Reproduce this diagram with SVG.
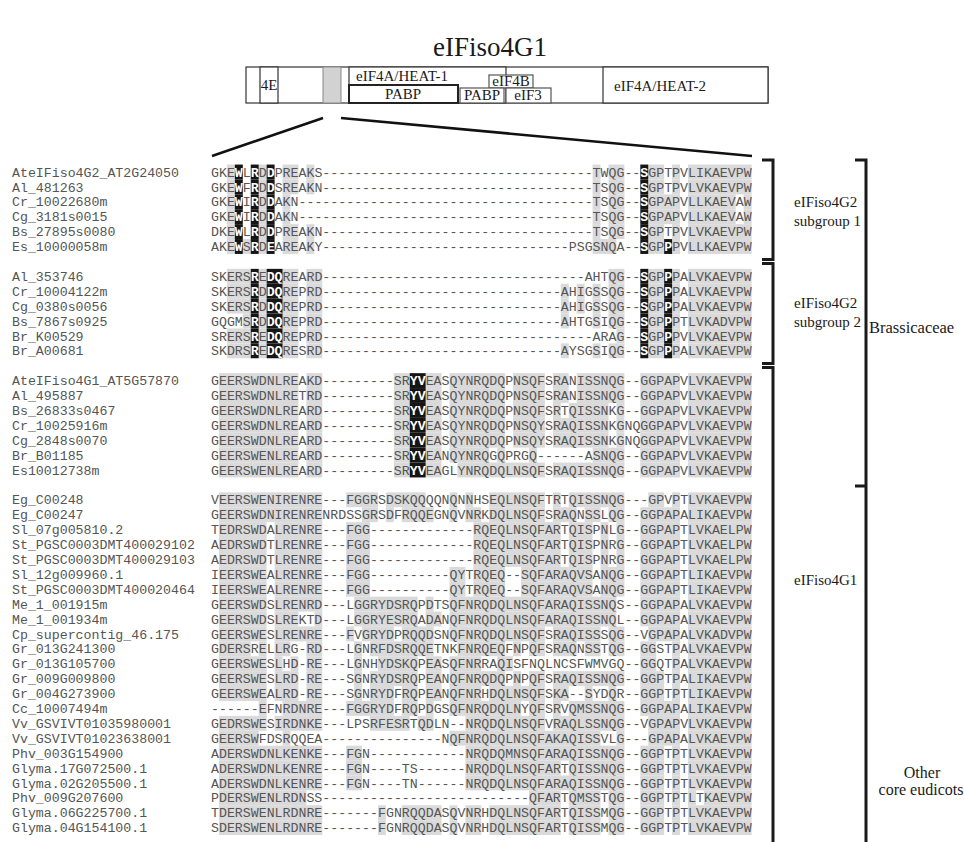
<svg xmlns="http://www.w3.org/2000/svg" width="964" height="842" viewBox="0 0 964 842">
<style>
.t{font-family:"Liberation Serif","Times New Roman",serif;fill:#1a1a1a}
.ttl{font-size:27px;text-anchor:middle}
.dl{font-size:15px;text-anchor:middle}
.lb{font-size:15px}
.lb2{font-size:16px}
.nm,.sq{font-family:"Liberation Mono","Courier New",monospace;font-size:13.25px;fill:#555}
.w{fill:#fff;font-weight:bold}
.g{fill:#dadada}
.k{fill:#151515}
.g rect,.k rect{y:-7.45px;height:14.9px}
.bx{fill:#fff;stroke:#333;stroke-width:1.2}
.br{fill:none;stroke:#1a1a1a;stroke-width:3}
.cn{stroke:#111;stroke-width:2.5}
</style>
<rect width="964" height="842" fill="#fff"/>
<text class="t ttl" x="490" y="56">eIFiso4G1</text>
<g id="domains">
<g id="d-outer"><rect class="bx" x="246" y="67" width="522" height="36"/></g>
<g id="d-4E"><rect class="bx" x="260" y="67" width="18" height="36"/><text class="t dl" x="269" y="90">4E</text></g>
<g id="d-region"><rect x="323" y="67" width="18" height="36" fill="#d2d2d2" stroke="#888" stroke-width="1"/></g>
<g id="d-heat1"><rect class="bx" x="349" y="67" width="157" height="36"/><text class="t dl" x="402" y="81">eIF4A/HEAT-1</text></g>
<g id="d-pabp1"><rect x="349" y="85" width="109" height="18" fill="#fff" stroke="#222" stroke-width="2"/><text class="t dl" x="403" y="99">PABP</text></g>
<g id="d-eif4b"><rect x="489" y="75" width="44" height="13" fill="#fff" stroke="#555" stroke-width="1.2"/><text class="t dl" x="511" y="86">eIF4B</text></g>
<g id="d-pabp2"><rect x="460" y="88" width="44" height="15" fill="#fff" stroke="#555" stroke-width="1.2"/><text class="t dl" x="482" y="100">PABP</text></g>
<g id="d-eif3"><rect x="506" y="88" width="45" height="15" fill="#fff" stroke="#555" stroke-width="1.2"/><text class="t dl" x="528" y="100">eIF3</text></g>
<g id="d-heat2"><rect class="bx" x="603" y="67" width="165" height="36"/><text class="t dl" x="660" y="91">eIF4A/HEAT-2</text></g>
</g>
<g id="connectors">
<line class="cn" x1="323" y1="118" x2="212" y2="156"/>
<line class="cn" x1="341" y1="118" x2="752" y2="156"/>
<path class="br" d="M762,160H773V259.5H762"/>
<path class="br" d="M762,263.5H773V363.5H762"/>
<path class="br" d="M762,367.5H773V842"/>
<path class="br" d="M855,160H866V842M855,486H866"/>
</g>
<g id="labels">
<text class="t lb" x="794" y="207">eIFiso4G2</text><text class="t lb" x="794" y="226">subgroup 1</text>
<text class="t lb" x="794" y="308">eIFiso4G2</text><text class="t lb" x="794" y="327">subgroup 2</text>
<text class="t lb2" x="869" y="333" style="font-size:16.5px">Brassicaceae</text>
<text class="t lb" x="794" y="585">eIFiso4G1</text>
<text class="t lb2" x="922" y="778" text-anchor="middle">Other</text>
<text class="t lb2" x="921" y="795" text-anchor="middle">core eudicots</text>
</g>
<g id="alignment">
<g id="r1" transform="translate(0,172)"><text class="nm" x="12" y="4.6">AteIFiso4G2_AT2G24050</text><g transform="translate(211,0) scale(7.95,1)"><g class="g"><rect x="2" width="1"/><rect x="6" width="1"/><rect x="9" width="2"/><rect x="12" width="1"/><rect x="48" width="1"/><rect x="50" width="2"/><rect x="55" width="2"/><rect x="58" width="1"/><rect x="60" width="8"/></g><g class="k"><rect x="3" width="1"/><rect x="5" width="1"/><rect x="7" width="1"/><rect x="54" width="1"/></g></g><text class="sq" x="211" y="4.6">GKE<tspan class="w">W</tspan>L<tspan class="w">R</tspan>D<tspan class="w">D</tspan>PREAKS----------------------------------<tspan x="592.6">TWQG--</tspan><tspan class="w">S</tspan>GPTPVLIKAEVPW</text></g>
<g id="r2" transform="translate(0,186.9)"><text class="nm" x="12" y="4.6">Al_481263</text><g transform="translate(211,0) scale(7.95,1)"><g class="g"><rect x="2" width="1"/><rect x="6" width="1"/><rect x="9" width="2"/><rect x="12" width="1"/><rect x="48" width="1"/><rect x="50" width="2"/><rect x="55" width="2"/><rect x="58" width="1"/><rect x="60" width="8"/></g><g class="k"><rect x="3" width="1"/><rect x="5" width="1"/><rect x="7" width="1"/><rect x="54" width="1"/></g></g><text class="sq" x="211" y="4.6">GKE<tspan class="w">W</tspan>F<tspan class="w">R</tspan>D<tspan class="w">D</tspan>SREAKN----------------------------------<tspan x="592.6">TSQG--</tspan><tspan class="w">S</tspan>GPTPVLVKAEVPW</text></g>
<g id="r3" transform="translate(0,201.8)"><text class="nm" x="12" y="4.6">Cr_10022680m</text><g transform="translate(211,0) scale(7.95,1)"><g class="g"><rect x="2" width="1"/><rect x="6" width="1"/><rect x="9" width="1"/><rect x="48" width="1"/><rect x="50" width="2"/><rect x="55" width="4"/><rect x="60" width="6"/><rect x="67" width="1"/></g><g class="k"><rect x="3" width="1"/><rect x="5" width="1"/><rect x="7" width="1"/><rect x="54" width="1"/></g></g><text class="sq" x="211" y="4.6">GKE<tspan class="w">W</tspan>I<tspan class="w">R</tspan>D<tspan class="w">D</tspan>AKN-------------------------------------<tspan x="592.6">TSQG--</tspan><tspan class="w">S</tspan>GPAPVLLKAEVAW</text></g>
<g id="r4" transform="translate(0,216.7)"><text class="nm" x="12" y="4.6">Cg_3181s0015</text><g transform="translate(211,0) scale(7.95,1)"><g class="g"><rect x="2" width="1"/><rect x="6" width="1"/><rect x="9" width="1"/><rect x="48" width="1"/><rect x="50" width="2"/><rect x="55" width="4"/><rect x="60" width="6"/><rect x="67" width="1"/></g><g class="k"><rect x="3" width="1"/><rect x="5" width="1"/><rect x="7" width="1"/><rect x="54" width="1"/></g></g><text class="sq" x="211" y="4.6">GKE<tspan class="w">W</tspan>I<tspan class="w">R</tspan>D<tspan class="w">D</tspan>AKN-------------------------------------<tspan x="592.6">TSQG--</tspan><tspan class="w">S</tspan>GPAPVLLKAEVAW</text></g>
<g id="r5" transform="translate(0,231.6)"><text class="nm" x="12" y="4.6">Bs_27895s0080</text><g transform="translate(211,0) scale(7.95,1)"><g class="g"><rect x="2" width="1"/><rect x="6" width="1"/><rect x="9" width="2"/><rect x="12" width="1"/><rect x="48" width="1"/><rect x="50" width="2"/><rect x="55" width="2"/><rect x="58" width="1"/><rect x="60" width="8"/></g><g class="k"><rect x="3" width="1"/><rect x="5" width="1"/><rect x="7" width="1"/><rect x="54" width="1"/></g></g><text class="sq" x="211" y="4.6">DKE<tspan class="w">W</tspan>L<tspan class="w">R</tspan>D<tspan class="w">D</tspan>PREAKN----------------------------------<tspan x="592.6">TSQG--</tspan><tspan class="w">S</tspan>GPTPVLVKAEVPW</text></g>
<g id="r6" transform="translate(0,246.5)"><text class="nm" x="12" y="4.6">Es_10000058m</text><g transform="translate(211,0) scale(7.95,1)"><g class="g"><rect x="2" width="1"/><rect x="4" width="1"/><rect x="6" width="1"/><rect x="9" width="2"/><rect x="12" width="1"/><rect x="48" width="3"/><rect x="55" width="2"/><rect x="58" width="1"/><rect x="60" width="8"/></g><g class="k"><rect x="3" width="1"/><rect x="5" width="1"/><rect x="7" width="1"/><rect x="54" width="1"/><rect x="57" width="1"/></g></g><text class="sq" x="211" y="4.6">AKE<tspan class="w">W</tspan>S<tspan class="w">R</tspan>D<tspan class="w">E</tspan>AREAKY-------------------------------<tspan x="568.75">PSGSNQA--</tspan><tspan class="w">S</tspan>GP<tspan class="w">P</tspan>PVLLKAEVPW</text></g>
<g id="r7" transform="translate(0,276.3)"><text class="nm" x="12" y="4.6">Al_353746</text><g transform="translate(211,0) scale(7.95,1)"><g class="g"><rect x="2" width="3"/><rect x="6" width="1"/><rect x="9" width="2"/><rect x="12" width="2"/><rect x="50" width="2"/><rect x="55" width="2"/><rect x="58" width="1"/><rect x="60" width="8"/></g><g class="k"><rect x="5" width="1"/><rect x="7" width="2"/><rect x="54" width="1"/><rect x="57" width="1"/></g></g><text class="sq" x="211" y="4.6">SKERS<tspan class="w">R</tspan>E<tspan class="w">DQ</tspan>REARD---------------------------------<tspan x="584.65">AHTQG--</tspan><tspan class="w">S</tspan>GP<tspan class="w">P</tspan>PALVKAEVPW</text></g>
<g id="r8" transform="translate(0,291.2)"><text class="nm" x="12" y="4.6">Cr_10004122m</text><g transform="translate(211,0) scale(7.95,1)"><g class="g"><rect x="2" width="3"/><rect x="6" width="1"/><rect x="9" width="2"/><rect x="12" width="2"/><rect x="44" width="1"/><rect x="46" width="1"/><rect x="48" width="1"/><rect x="50" width="2"/><rect x="55" width="2"/><rect x="58" width="1"/><rect x="60" width="8"/></g><g class="k"><rect x="5" width="1"/><rect x="7" width="2"/><rect x="54" width="1"/><rect x="57" width="1"/></g></g><text class="sq" x="211" y="4.6">SKERS<tspan class="w">R</tspan>D<tspan class="w">DQ</tspan>REPRD------------------------------<tspan x="560.8">AHIGSSQG--</tspan><tspan class="w">S</tspan>GP<tspan class="w">P</tspan>PALVKAEVPW</text></g>
<g id="r9" transform="translate(0,306.1)"><text class="nm" x="12" y="4.6">Cg_0380s0056</text><g transform="translate(211,0) scale(7.95,1)"><g class="g"><rect x="2" width="3"/><rect x="6" width="1"/><rect x="9" width="2"/><rect x="12" width="2"/><rect x="44" width="1"/><rect x="46" width="1"/><rect x="48" width="1"/><rect x="50" width="2"/><rect x="55" width="2"/><rect x="58" width="1"/><rect x="60" width="8"/></g><g class="k"><rect x="5" width="1"/><rect x="7" width="2"/><rect x="54" width="1"/><rect x="57" width="1"/></g></g><text class="sq" x="211" y="4.6">SKERS<tspan class="w">R</tspan>D<tspan class="w">DQ</tspan>REPRD------------------------------<tspan x="560.8">AHIGSSQG--</tspan><tspan class="w">S</tspan>GP<tspan class="w">P</tspan>PALVKAEVPW</text></g>
<g id="r10" transform="translate(0,321)"><text class="nm" x="12" y="4.6">Bs_7867s0925</text><g transform="translate(211,0) scale(7.95,1)"><g class="g"><rect x="4" width="1"/><rect x="6" width="1"/><rect x="9" width="2"/><rect x="12" width="2"/><rect x="44" width="1"/><rect x="48" width="1"/><rect x="50" width="2"/><rect x="55" width="2"/><rect x="58" width="1"/><rect x="60" width="8"/></g><g class="k"><rect x="5" width="1"/><rect x="7" width="2"/><rect x="54" width="1"/><rect x="57" width="1"/></g></g><text class="sq" x="211" y="4.6">GQGMS<tspan class="w">R</tspan>D<tspan class="w">DQ</tspan>REPRD------------------------------<tspan x="560.8">AHTGSIQG--</tspan><tspan class="w">S</tspan>GP<tspan class="w">P</tspan>PTLVKADVPW</text></g>
<g id="r11" transform="translate(0,335.9)"><text class="nm" x="12" y="4.6">Br_K00529</text><g transform="translate(211,0) scale(7.95,1)"><g class="g"><rect x="2" width="3"/><rect x="6" width="1"/><rect x="9" width="2"/><rect x="12" width="2"/><rect x="51" width="1"/><rect x="55" width="2"/><rect x="58" width="1"/><rect x="60" width="8"/></g><g class="k"><rect x="5" width="1"/><rect x="7" width="2"/><rect x="54" width="1"/><rect x="57" width="1"/></g></g><text class="sq" x="211" y="4.6">SRERS<tspan class="w">R</tspan>E<tspan class="w">DQ</tspan>REPRD----------------------------------<tspan x="592.6">ARAG--</tspan><tspan class="w">S</tspan>GP<tspan class="w">P</tspan>PVLVKAEVPW</text></g>
<g id="r12" transform="translate(0,350.8)"><text class="nm" x="12" y="4.6">Br_A00681</text><g transform="translate(211,0) scale(7.95,1)"><g class="g"><rect x="2" width="3"/><rect x="6" width="1"/><rect x="9" width="2"/><rect x="12" width="2"/><rect x="44" width="1"/><rect x="48" width="1"/><rect x="50" width="2"/><rect x="55" width="2"/><rect x="58" width="1"/><rect x="60" width="8"/></g><g class="k"><rect x="5" width="1"/><rect x="7" width="2"/><rect x="54" width="1"/><rect x="57" width="1"/></g></g><text class="sq" x="211" y="4.6">SKDRS<tspan class="w">R</tspan>E<tspan class="w">DQ</tspan>RESRD------------------------------<tspan x="560.8">AYSGSIQG--</tspan><tspan class="w">S</tspan>GP<tspan class="w">P</tspan>PALVKAEVPW</text></g>
<g id="r13" transform="translate(0,380.6)"><text class="nm" x="12" y="4.6">AteIFiso4G1_AT5G57870</text><g transform="translate(211,0) scale(7.95,1)"><g class="g"><rect x="1" width="10"/><rect x="12" width="2"/><rect x="23" width="2"/><rect x="27" width="2"/><rect x="30" width="7"/><rect x="38" width="4"/><rect x="43" width="2"/><rect x="46" width="6"/><rect x="54" width="5"/><rect x="60" width="8"/></g><g class="k"><rect x="25" width="2"/></g></g><text class="sq" x="211" y="4.6">GEERSWDNLREAKD---------<tspan x="393.85">SR</tspan><tspan class="w">YV</tspan>EASQYNRQDQPNSQFSRANISSNQG--GGPAPVLVKAEVPW</text></g>
<g id="r14" transform="translate(0,395.5)"><text class="nm" x="12" y="4.6">Al_495887</text><g transform="translate(211,0) scale(7.95,1)"><g class="g"><rect x="1" width="10"/><rect x="12" width="2"/><rect x="23" width="2"/><rect x="27" width="2"/><rect x="30" width="7"/><rect x="38" width="4"/><rect x="43" width="2"/><rect x="46" width="6"/><rect x="54" width="5"/><rect x="60" width="8"/></g><g class="k"><rect x="25" width="2"/></g></g><text class="sq" x="211" y="4.6">GEERSWDNLRETRD---------<tspan x="393.85">SR</tspan><tspan class="w">YV</tspan>EASQYNRQDQPNSQFSRANISSNQG--GGPAPVLVKAEVPW</text></g>
<g id="r15" transform="translate(0,410.4)"><text class="nm" x="12" y="4.6">Bs_26833s0467</text><g transform="translate(211,0) scale(7.95,1)"><g class="g"><rect x="1" width="10"/><rect x="12" width="2"/><rect x="23" width="2"/><rect x="27" width="2"/><rect x="30" width="7"/><rect x="38" width="4"/><rect x="43" width="1"/><rect x="45" width="5"/><rect x="51" width="1"/><rect x="54" width="5"/><rect x="60" width="8"/></g><g class="k"><rect x="25" width="2"/></g></g><text class="sq" x="211" y="4.6">GEERSWDNLREARD---------<tspan x="393.85">SR</tspan><tspan class="w">YV</tspan>EASQYNRQDQPNSQFSRTQISSNKG--GGPAPVLVKAEVPW</text></g>
<g id="r16" transform="translate(0,425.3)"><text class="nm" x="12" y="4.6">Cr_10025916m</text><g transform="translate(211,0) scale(7.95,1)"><g class="g"><rect x="1" width="10"/><rect x="12" width="2"/><rect x="23" width="2"/><rect x="27" width="2"/><rect x="30" width="7"/><rect x="38" width="4"/><rect x="43" width="7"/><rect x="51" width="1"/><rect x="54" width="5"/><rect x="60" width="8"/></g><g class="k"><rect x="25" width="2"/></g></g><text class="sq" x="211" y="4.6">GEERSWDNLREARD---------<tspan x="393.85">SR</tspan><tspan class="w">YV</tspan>EASQYNRQDQPNSQYSRAQISSNKGNQGGPAPVLVKAEVPW</text></g>
<g id="r17" transform="translate(0,440.2)"><text class="nm" x="12" y="4.6">Cg_2848s0070</text><g transform="translate(211,0) scale(7.95,1)"><g class="g"><rect x="1" width="10"/><rect x="12" width="2"/><rect x="23" width="2"/><rect x="27" width="2"/><rect x="30" width="7"/><rect x="38" width="4"/><rect x="43" width="7"/><rect x="51" width="1"/><rect x="54" width="5"/><rect x="60" width="8"/></g><g class="k"><rect x="25" width="2"/></g></g><text class="sq" x="211" y="4.6">GEERSWDNLREARD---------<tspan x="393.85">SR</tspan><tspan class="w">YV</tspan>EASQYNRQDQPNSQYSRAQISSNKGNQGGPAPVLVKAEVPW</text></g>
<g id="r18" transform="translate(0,455.1)"><text class="nm" x="12" y="4.6">Br_B01185</text><g transform="translate(211,0) scale(7.95,1)"><g class="g"><rect x="1" width="10"/><rect x="12" width="2"/><rect x="23" width="2"/><rect x="27" width="2"/><rect x="30" width="5"/><rect x="36" width="1"/><rect x="40" width="1"/><rect x="48" width="4"/><rect x="54" width="5"/><rect x="60" width="8"/></g><g class="k"><rect x="25" width="2"/></g></g><text class="sq" x="211" y="4.6">GEERSWENLREARD---------<tspan x="393.85">SR</tspan><tspan class="w">YV</tspan>EANQYNRQGQPRGQ------ASNQG--GGPAPVLVKAEVPW</text></g>
<g id="r19" transform="translate(0,470)"><text class="nm" x="12" y="4.6">Es10012738m</text><g transform="translate(211,0) scale(7.95,1)"><g class="g"><rect x="1" width="10"/><rect x="12" width="2"/><rect x="23" width="2"/><rect x="27" width="2"/><rect x="31" width="11"/><rect x="43" width="9"/><rect x="54" width="5"/><rect x="60" width="8"/></g><g class="k"><rect x="25" width="2"/></g></g><text class="sq" x="211" y="4.6">GEERSWENLREARD---------<tspan x="393.85">SR</tspan><tspan class="w">YV</tspan>EAGLYNRQDQLNSQFSRAQISSNQG--GGPAPVLVKAEVPW</text></g>
<g id="r20" transform="translate(0,499.8)"><text class="nm" x="12" y="4.6">Eg_C00248</text><g transform="translate(211,0) scale(7.95,1)"><g class="g"><rect x="1" width="13"/><rect x="17" width="4"/><rect x="22" width="5"/><rect x="30" width="1"/><rect x="32" width="1"/><rect x="35" width="7"/><rect x="43" width="1"/><rect x="45" width="7"/><rect x="55" width="2"/><rect x="58" width="1"/><rect x="60" width="8"/></g></g><text class="sq" x="211" y="4.6">VEERSWENIRENRE---FGGRSDSKQQQQNQNNHSEQLNSQFTRTQISSNQG---GPVPTLVKAEVPW</text></g>
<g id="r21" transform="translate(0,514.7)"><text class="nm" x="12" y="4.6">Eg_C00247</text><g transform="translate(211,0) scale(7.95,1)"><g class="g"><rect x="1" width="13"/><rect x="19" width="2"/><rect x="22" width="1"/><rect x="24" width="4"/><rect x="30" width="1"/><rect x="32" width="2"/><rect x="35" width="7"/><rect x="43" width="3"/><rect x="47" width="2"/><rect x="50" width="2"/><rect x="54" width="5"/><rect x="60" width="8"/></g></g><text class="sq" x="211" y="4.6">GEERSWDNIRENRENRDSSGRSDFRQQEGNQVNRKDQLNSQFSRAQNSSLQG--GGPAPALIKAEVPW</text></g>
<g id="r22" transform="translate(0,529.6)"><text class="nm" x="12" y="4.6">Sl_07g005810.2</text><g transform="translate(211,0) scale(7.95,1)"><g class="g"><rect x="1" width="6"/><rect x="8" width="6"/><rect x="17" width="3"/><rect x="33" width="11"/><rect x="45" width="3"/><rect x="49" width="1"/><rect x="51" width="1"/><rect x="54" width="5"/><rect x="60" width="8"/></g></g><text class="sq" x="211" y="4.6">TEDRSWDALRENRE---FGG-------------<tspan x="473.35">RQEQLNSQFARTQISPNLG--GGPAPTLVKAELPW</tspan></text></g>
<g id="r23" transform="translate(0,544.5)"><text class="nm" x="12" y="4.6">St_PGSC0003DMT400029102</text><g transform="translate(211,0) scale(7.95,1)"><g class="g"><rect x="1" width="6"/><rect x="8" width="6"/><rect x="17" width="3"/><rect x="33" width="11"/><rect x="45" width="3"/><rect x="49" width="1"/><rect x="51" width="1"/><rect x="54" width="5"/><rect x="60" width="8"/></g></g><text class="sq" x="211" y="4.6">AEDRSWDTLRENRE---FGG-------------<tspan x="473.35">RQEQLNSQFARTQISPNRG--GGPAPTLVKAELPW</tspan></text></g>
<g id="r24" transform="translate(0,559.4)"><text class="nm" x="12" y="4.6">St_PGSC0003DMT400029103</text><g transform="translate(211,0) scale(7.95,1)"><g class="g"><rect x="1" width="6"/><rect x="8" width="6"/><rect x="17" width="3"/><rect x="33" width="11"/><rect x="45" width="3"/><rect x="49" width="1"/><rect x="51" width="1"/><rect x="54" width="5"/><rect x="60" width="8"/></g></g><text class="sq" x="211" y="4.6">AEDRSWDTLRENRE---FGG-------------<tspan x="473.35">RQEQLNSQFARTQISPNRG--GGPAPTLVKAELPW</tspan></text></g>
<g id="r25" transform="translate(0,574.3)"><text class="nm" x="12" y="4.6">Sl_12g009960.1</text><g transform="translate(211,0) scale(7.95,1)"><g class="g"><rect x="1" width="6"/><rect x="8" width="6"/><rect x="17" width="3"/><rect x="30" width="2"/><rect x="33" width="4"/><rect x="39" width="9"/><rect x="49" width="3"/><rect x="54" width="5"/><rect x="60" width="8"/></g></g><text class="sq" x="211" y="4.6">IEERSWEALRENRE---FGG----------<tspan x="449.5">QYTRQEQ--SQFARAQVSANQG--GGPAPTLIKAEVPW</tspan></text></g>
<g id="r26" transform="translate(0,589.2)"><text class="nm" x="12" y="4.6">St_PGSC0003DMT400020464</text><g transform="translate(211,0) scale(7.95,1)"><g class="g"><rect x="1" width="6"/><rect x="8" width="6"/><rect x="17" width="3"/><rect x="30" width="2"/><rect x="33" width="4"/><rect x="39" width="9"/><rect x="49" width="3"/><rect x="54" width="5"/><rect x="60" width="8"/></g></g><text class="sq" x="211" y="4.6">IEERSWEALRENRE---FGG----------<tspan x="449.5">QYTRQEQ--SQFARAQVSANQG--GGPAPTLIKAEVPW</tspan></text></g>
<g id="r27" transform="translate(0,604.1)"><text class="nm" x="12" y="4.6">Me_1_001915m</text><g transform="translate(211,0) scale(7.95,1)"><g class="g"><rect x="1" width="6"/><rect x="8" width="6"/><rect x="18" width="8"/><rect x="27" width="1"/><rect x="30" width="21"/><rect x="54" width="5"/><rect x="60" width="8"/></g></g><text class="sq" x="211" y="4.6">GEERSWDSLRENRD---LGGRYDSRQPDTSQFNRQDQLNSQFARAQISSNQS--GGPAPALVKAEVPW</text></g>
<g id="r28" transform="translate(0,619)"><text class="nm" x="12" y="4.6">Me_1_001934m</text><g transform="translate(211,0) scale(7.95,1)"><g class="g"><rect x="1" width="6"/><rect x="8" width="3"/><rect x="13" width="1"/><rect x="18" width="8"/><rect x="27" width="2"/><rect x="30" width="21"/><rect x="54" width="5"/><rect x="60" width="8"/></g></g><text class="sq" x="211" y="4.6">GEERSWDSLREKTD---LGGRYESRQADANQFNRQDQLNSQFARAQISSNQL--GGPAPALVKAEVPW</text></g>
<g id="r29" transform="translate(0,633.9)"><text class="nm" x="12" y="4.6">Cp_supercontig_46.175</text><g transform="translate(211,0) scale(7.95,1)"><g class="g"><rect x="1" width="6"/><rect x="8" width="6"/><rect x="17" width="1"/><rect x="19" width="4"/><rect x="24" width="4"/><rect x="30" width="12"/><rect x="43" width="6"/><rect x="50" width="2"/><rect x="55" width="4"/><rect x="60" width="8"/></g></g><text class="sq" x="211" y="4.6">GEERSWESLRENRE---FVGRYDPRQQDSNQFNRQDQLNSQFSRAQISSSQG--VGPAPALVKADVPW</text></g>
<g id="r30" transform="translate(0,648.8)"><text class="nm" x="12" y="4.6">Gr_013G241300</text><g transform="translate(211,0) scale(7.95,1)"><g class="g"><rect x="1" width="4"/><rect x="6" width="1"/><rect x="8" width="2"/><rect x="12" width="2"/><rect x="18" width="1"/><rect x="20" width="8"/><rect x="31" width="6"/><rect x="38" width="1"/><rect x="40" width="2"/><rect x="43" width="3"/><rect x="47" width="2"/><rect x="50" width="2"/><rect x="54" width="2"/><rect x="58" width="1"/><rect x="60" width="8"/></g></g><text class="sq" x="211" y="4.6">GDERSRELLRG-RD---LGNRFDSRQQETNKFNRQEQFNPQFSRAQNSSTQG--GGSTPALVKAEVPW</text></g>
<g id="r31" transform="translate(0,663.7)"><text class="nm" x="12" y="4.6">Gr_013G105700</text><g transform="translate(211,0) scale(7.95,1)"><g class="g"><rect x="1" width="6"/><rect x="8" width="1"/><rect x="10" width="1"/><rect x="12" width="2"/><rect x="18" width="1"/><rect x="21" width="5"/><rect x="27" width="2"/><rect x="30" width="4"/><rect x="36" width="2"/><rect x="54" width="2"/><rect x="58" width="1"/><rect x="60" width="8"/></g></g><text class="sq" x="211" y="4.6">GEERSWESLHD-RE---LGNHYDSKQPEASQFNRRAQISFNQLNCSFWMVGQ--GGQTPALVKAEVPW</text></g>
<g id="r32" transform="translate(0,678.6)"><text class="nm" x="12" y="4.6">Gr_009G009800</text><g transform="translate(211,0) scale(7.95,1)"><g class="g"><rect x="1" width="6"/><rect x="8" width="3"/><rect x="12" width="2"/><rect x="18" width="1"/><rect x="20" width="6"/><rect x="27" width="2"/><rect x="30" width="7"/><rect x="38" width="1"/><rect x="40" width="2"/><rect x="43" width="9"/><rect x="54" width="3"/><rect x="58" width="1"/><rect x="60" width="8"/></g></g><text class="sq" x="211" y="4.6">GEERSWESLRD-RE---SGNRYDSRQPEANQFNRQDQPNPQFSRAQISSNQG--GGPTPALIKAEVPW</text></g>
<g id="r33" transform="translate(0,693.5)"><text class="nm" x="12" y="4.6">Gr_004G273900</text><g transform="translate(211,0) scale(7.95,1)"><g class="g"><rect x="1" width="6"/><rect x="8" width="3"/><rect x="12" width="2"/><rect x="18" width="1"/><rect x="20" width="3"/><rect x="24" width="2"/><rect x="27" width="2"/><rect x="30" width="4"/><rect x="35" width="7"/><rect x="43" width="2"/><rect x="47" width="1"/><rect x="50" width="1"/><rect x="54" width="3"/><rect x="58" width="1"/><rect x="60" width="8"/></g></g><text class="sq" x="211" y="4.6">GEERSWEALRD-RE---SGNRYDFRQPEANQFNRHDQLNSQFSKA--SYDQR--GGPTPTLIKAEVPW</text></g>
<g id="r34" transform="translate(0,708.4)"><text class="nm" x="12" y="4.6">Cc_10007494m</text><g transform="translate(211,0) scale(7.95,1)"><g class="g"><rect x="6" width="1"/><rect x="9" width="5"/><rect x="17" width="6"/><rect x="24" width="2"/><rect x="27" width="1"/><rect x="30" width="9"/><rect x="40" width="2"/><rect x="43" width="1"/><rect x="45" width="7"/><rect x="54" width="5"/><rect x="60" width="8"/></g></g><text class="sq" x="211" y="4.6">------EFNRDNRE---FGGRYDFRQPDGSQFNRQDQLNYQFSRVQMSSNQG--GGPAPALIKAEVPW</text></g>
<g id="r35" transform="translate(0,723.3)"><text class="nm" x="12" y="4.6">Vv_GSVIVT01035980001</text><g transform="translate(211,0) scale(7.95,1)"><g class="g"><rect x="1" width="6"/><rect x="8" width="6"/><rect x="20" width="5"/><rect x="26" width="2"/><rect x="32" width="10"/><rect x="43" width="9"/><rect x="55" width="4"/><rect x="60" width="8"/></g></g><text class="sq" x="211" y="4.6">GEDRSWESIRDNKE---LPSRFESRTQDLN--NRQDQLNSQFVRAQLSSNQG--VGPAPVLVKAEVPW</text></g>
<g id="r36" transform="translate(0,738.2)"><text class="nm" x="12" y="4.6">Vv_GSVIVT01023638001</text><g transform="translate(211,0) scale(7.95,1)"><g class="g"><rect x="1" width="5"/><rect x="9" width="1"/><rect x="30" width="19"/><rect x="51" width="1"/><rect x="55" width="4"/><rect x="60" width="8"/></g></g><text class="sq" x="211" y="4.6">GEERSWFDSRQQEA---------------<tspan x="441.55">NQFNRQDQLNSQFAKAQISSVLG---GPAPALVKAEVPW</tspan></text></g>
<g id="r37" transform="translate(0,753.1)"><text class="nm" x="12" y="4.6">Phv_003G154900</text><g transform="translate(211,0) scale(7.95,1)"><g class="g"><rect x="1" width="13"/><rect x="17" width="2"/><rect x="32" width="20"/><rect x="54" width="3"/><rect x="58" width="1"/><rect x="60" width="8"/></g></g><text class="sq" x="211" y="4.6">ADERSWDNLKENKE---FGN------------<tspan x="465.4">NRQDQMNSQFARAQISSNQG--GGPTPTLVKAEVPW</tspan></text></g>
<g id="r38" transform="translate(0,768)"><text class="nm" x="12" y="4.6">Glyma.17G072500.1</text><g transform="translate(211,0) scale(7.95,1)"><g class="g"><rect x="1" width="13"/><rect x="17" width="2"/><rect x="32" width="12"/><rect x="45" width="7"/><rect x="54" width="3"/><rect x="58" width="1"/><rect x="60" width="8"/></g></g><text class="sq" x="211" y="4.6">ADERSWDNLKENRE---FGN----TS------NRQDQLNSQFARTQISSNQG--GGPTPTLVKAEVPW</text></g>
<g id="r39" transform="translate(0,782.9)"><text class="nm" x="12" y="4.6">Glyma.02G205500.1</text><g transform="translate(211,0) scale(7.95,1)"><g class="g"><rect x="1" width="13"/><rect x="17" width="2"/><rect x="32" width="20"/><rect x="54" width="3"/><rect x="58" width="1"/><rect x="60" width="8"/></g></g><text class="sq" x="211" y="4.6">ADERSWDNLKENRE---FGN----TN------NRQDQLNSQFARAQISSNQG--GGPTPTLVKAEVPW</text></g>
<g id="r40" transform="translate(0,797.8)"><text class="nm" x="12" y="4.6">Phv_009G207600</text><g transform="translate(211,0) scale(7.95,1)"><g class="g"><rect x="1" width="11"/><rect x="40" width="4"/><rect x="45" width="4"/><rect x="50" width="2"/><rect x="54" width="3"/><rect x="58" width="1"/><rect x="60" width="1"/><rect x="62" width="6"/></g></g><text class="sq" x="211" y="4.6">PDERSWENLRDNSS--------------------------<tspan x="529">QFARTQMSSTQG--GGPTPTLTKAEVPW</tspan></text></g>
<g id="r41" transform="translate(0,812.7)"><text class="nm" x="12" y="4.6">Glyma.06G225700.1</text><g transform="translate(211,0) scale(7.95,1)"><g class="g"><rect x="1" width="13"/><rect x="21" width="1"/><rect x="24" width="5"/><rect x="30" width="1"/><rect x="32" width="2"/><rect x="35" width="9"/><rect x="45" width="4"/><rect x="50" width="2"/><rect x="54" width="3"/><rect x="58" width="1"/><rect x="60" width="8"/></g></g><text class="sq" x="211" y="4.6">TDERSWENLRDNRE-------FGNRQQDASQVNRHDQLNSQFARTQISSMQG--GGPTPTLVKAEVPW</text></g>
<g id="r42" transform="translate(0,827.6)"><text class="nm" x="12" y="4.6">Glyma.04G154100.1</text><g transform="translate(211,0) scale(7.95,1)"><g class="g"><rect x="1" width="13"/><rect x="21" width="1"/><rect x="24" width="5"/><rect x="30" width="1"/><rect x="32" width="2"/><rect x="35" width="9"/><rect x="45" width="4"/><rect x="50" width="2"/><rect x="54" width="3"/><rect x="58" width="1"/><rect x="60" width="8"/></g></g><text class="sq" x="211" y="4.6">SDERSWENLRDNRE-------FGNRQQDASQVNRHDQLNSQFARTQISSMQG--GGPTPTLVKAEVPW</text></g>
</g>
</svg>
